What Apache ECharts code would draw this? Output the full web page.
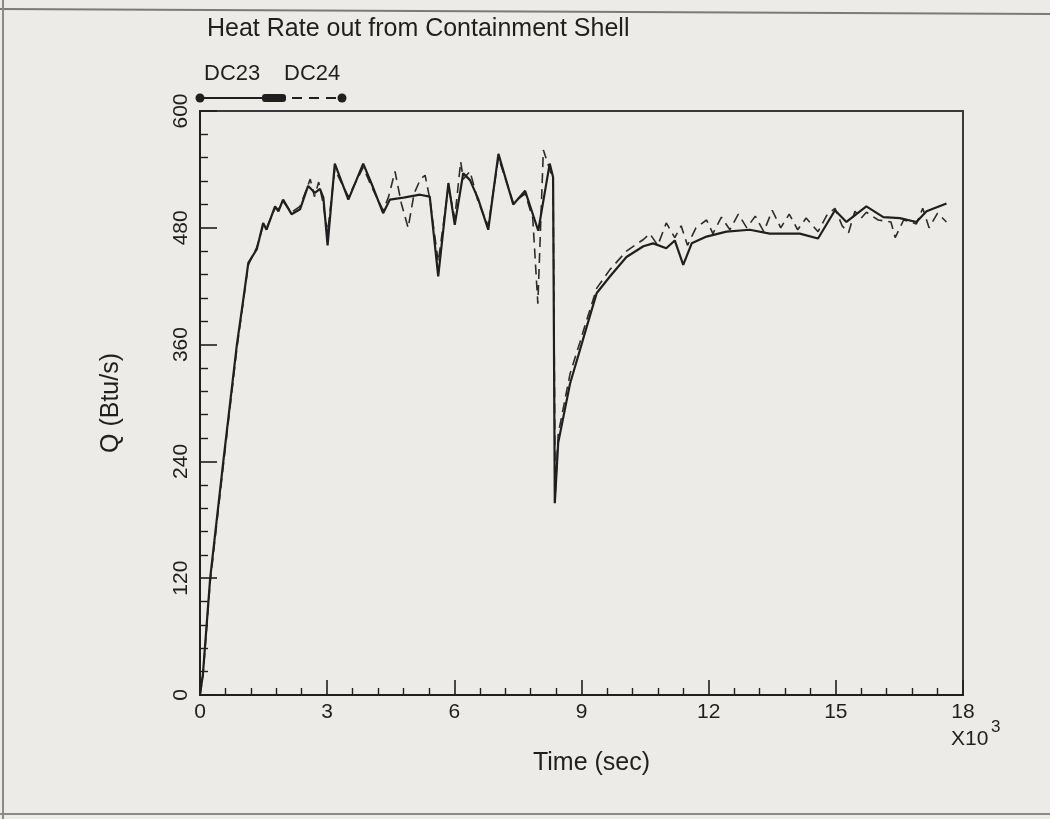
<!DOCTYPE html>
<html>
<head>
<meta charset="utf-8">
<script src="https://cdn.jsdelivr.net/npm/echarts@6/dist/echarts.min.js"></script>
<style>
  html, body { margin: 0; padding: 0; background: #ecebe8; }
  #chart { width: 1050px; height: 819px; }
</style>
</head>
<body>
<div id="chart"></div>
<script>
// Heat rate out from the containment shell, runs DC23 and DC24
const titleText = 'Heat Rate out from Containment Shell';
const seriesNames = ['DC23', 'DC24'];
const xTickValues = [0, 3000, 6000, 9000, 12000, 15000, 18000];
const yTickValues = [0, 120, 240, 360, 480, 600];

// DC23 (solid line): time in s, heat rate in Btu/s
const dc23Time = [0, 70, 240, 550, 870, 1020, 1140, 1340, 1490, 1570, 1770, 1850, 1960, 2160, 2360,
  2550, 2710, 2830, 2910, 3010, 3180, 3500, 3850, 4050, 4320, 4480, 4800, 5190, 5420, 5620,
  5860, 6010, 6210, 6370, 6560, 6800, 7040, 7390, 7670, 7980, 8250, 8330, 8370, 8450, 8730,
  8960, 9120, 9360, 9670, 10060, 10460, 10690, 11000, 11200, 11400, 11600, 11950, 12420, 12970,
  13440, 14150, 14580, 14980, 15250, 15720, 16120, 16510, 16900, 17140, 17610];
const dc23Q = [0, 22, 120, 240, 360, 406, 444, 458, 485, 478, 502, 497, 509, 494, 499,
  523, 516, 520, 511, 462, 546, 509, 546, 525, 495, 509, 511, 514, 512, 430,
  526, 483, 536, 529, 510, 478, 556, 504, 518, 477, 546, 532, 197, 259, 320,
  354, 378, 413, 430, 450, 461, 464, 459, 467, 442, 464, 471, 476, 478,
  474, 474, 469, 498, 486, 502, 491, 490, 486, 497, 505];

// DC24 (dashed line)
const dc24Time = [0, 70, 240, 550, 870, 1020, 1140, 1340, 1490, 1570, 1770, 1850, 1960, 2160, 2360,
  2500, 2600, 2700, 2800, 2900, 3010, 3180, 3500, 3850, 4050, 4320, 4450, 4600, 4750, 4910,
  5050, 5200, 5310, 5420, 5620, 5860, 6010, 6150, 6210, 6370, 6560, 6800, 7040, 7390, 7670,
  7850, 7970, 8100, 8250, 8330, 8380, 8450, 8730, 8960, 9120, 9360, 9670, 10060, 10460, 10610,
  10800, 11000, 11200, 11350, 11500, 11700, 11950, 12100, 12300, 12500, 12700, 12900, 13100, 13300,
  13500, 13700, 13900, 14100, 14300, 14580, 14800, 14980, 15150, 15300, 15450, 15600, 15720, 16000,
  16300, 16400, 16600, 16900, 17050, 17200, 17400, 17610];
const dc24Q = [0, 20, 116, 236, 356, 404, 442, 460, 482, 480, 500, 499, 507, 496, 502,
  518, 530, 512, 527, 506, 475, 540, 512, 542, 522, 498, 512, 538, 505, 480,
  515, 530, 534, 510, 445, 522, 490, 548, 530, 538, 507, 482, 552, 506, 515,
  490, 402, 560, 540, 528, 205, 268, 330, 362, 385, 418, 437, 456, 468, 474,
  462, 485, 470, 482, 462, 480, 488, 474, 491, 478, 494, 480, 492, 476,
  498, 480, 494, 478, 490, 476, 494, 500, 482, 475, 497, 490, 496, 488,
  486, 470, 488, 484, 500, 480, 495, 486];

const ink = '#1f1f1f';
const sans = '"Liberation Sans", Arial, sans-serif';
const pairs = (ts, qs) => ts.map((t, i) => [t, qs[i]]);

const chart = echarts.init(document.getElementById('chart'), null, { renderer: 'canvas' });

chart.setOption({
  backgroundColor: '#ecebe8',
  animation: false,
  grid: {
    left: 200, right: 87, top: 111, bottom: 124,
    show: true, borderColor: '#3a3a3a', borderWidth: 2, backgroundColor: 'transparent'
  },
  xAxis: {
    type: 'value', min: 0, max: 18000, interval: 3000,
    name: 'Time (sec)', nameLocation: 'middle', nameGap: 56,
    nameTextStyle: { color: ink, fontSize: 25, fontFamily: sans, padding: [0, 0, 0, 20] },
    axisLine: { show: true, onZero: false, lineStyle: { color: ink, width: 2 } },
    axisTick: { show: true, inside: true, length: 15, lineStyle: { color: ink, width: 1.6 } },
    minorTick: { show: true, splitNumber: 5, length: 7, lineStyle: { color: ink, width: 1.4 } },
    splitLine: { show: false },
    axisLabel: {
      color: ink, fontSize: 21, fontFamily: sans, margin: 7,
      formatter: v => (xTickValues.indexOf(v) === xTickValues.length - 1)
        ? '{hi|' + v / 1000 + '}' : String(v / 1000),
      rich: { hi: { fontSize: 21, fontFamily: sans, color: ink, padding: [0, 0, 16, 0] } }
    }
  },
  yAxis: {
    type: 'value', min: 0, max: 600, interval: 120,
    name: 'Q (Btu/s)', nameLocation: 'middle', nameGap: 76, nameRotate: 90,
    nameTextStyle: { color: ink, fontSize: 25, fontFamily: sans },
    axisLine: { show: true, lineStyle: { color: ink, width: 2 } },
    axisTick: { show: true, inside: true, length: 17, lineStyle: { color: ink, width: 1.6 } },
    minorTick: { show: true, splitNumber: 5, length: 8, lineStyle: { color: ink, width: 1.4 } },
    splitLine: { show: false },
    axisLabel: {
      color: ink, fontSize: 21, fontFamily: sans, rotate: 90, margin: 8,
      formatter: v => yTickValues.indexOf(v) >= 0 ? String(v) : ''
    }
  },
  graphic: [
    // scan edge lines
    { type: 'line', shape: { x1: 0, y1: 9, x2: 1050, y2: 14 }, style: { stroke: '#7a7a7a', lineWidth: 2 }, silent: true },
    { type: 'line', shape: { x1: 3, y1: 0, x2: 3, y2: 819 }, style: { stroke: '#8a8a8a', lineWidth: 2 }, silent: true },
    { type: 'line', shape: { x1: 0, y1: 814, x2: 1050, y2: 814 }, style: { stroke: '#8a8a8a', lineWidth: 2 }, silent: true },
    // title
    { type: 'text', left: 207, top: 17, style: { text: titleText, fill: ink, font: '25px "Liberation Sans"' } },
    // legend
    { type: 'text', left: 204, top: 63, style: { text: seriesNames[0], fill: ink, font: '22px "Liberation Sans"' } },
    { type: 'text', left: 284, top: 63, style: { text: seriesNames[1], fill: ink, font: '22px "Liberation Sans"' } },
    { type: 'line', shape: { x1: 200, y1: 98, x2: 272, y2: 98 }, style: { stroke: ink, lineWidth: 2 } },
    { type: 'circle', shape: { cx: 200, cy: 98, r: 4.5 }, style: { fill: ink } },
    { type: 'rect', shape: { x: 262, y: 94, width: 24, height: 8, r: 3 }, style: { fill: ink } },
    { type: 'line', shape: { x1: 286, y1: 98, x2: 342, y2: 98 }, style: { stroke: ink, lineWidth: 1.8, lineDash: [10, 7], lineDashOffset: -6 } },
    { type: 'circle', shape: { cx: 342, cy: 98, r: 4.5 }, style: { fill: ink } },
    // exponent of the time axis
    { type: 'text', left: 951, top: 729, style: { text: 'X10', fill: ink, font: '21px "Liberation Sans"' } },
    { type: 'text', left: 991, top: 719, style: { text: '3', fill: ink, font: '17px "Liberation Sans"' } }
  ],
  series: [
    {
      name: seriesNames[0], type: 'line', data: pairs(dc23Time, dc23Q),
      showSymbol: false, clip: true,
      lineStyle: { color: ink, width: 2.2 }, z: 3
    },
    {
      name: seriesNames[1], type: 'line', data: pairs(dc24Time, dc24Q),
      showSymbol: false, clip: true,
      lineStyle: { color: '#2c2c2c', width: 1.6, type: [10, 6] }, z: 2
    }
  ]
});
</script>
</body>
</html>
